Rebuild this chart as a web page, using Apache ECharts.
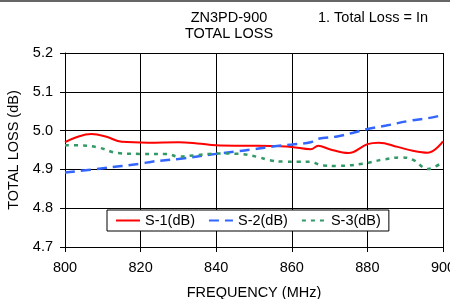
<!DOCTYPE html>
<html>
<head>
<meta charset="utf-8">
<script src="https://cdn.jsdelivr.net/npm/echarts@6/dist/echarts.min.js"></script>
<style>
  html, body { margin: 0; padding: 0; background: #fff; }
  #chart { width: 450px; height: 299px; }
</style>
</head>
<body>
<div id="chart"></div>
<script>
// frequency (MHz) points
var freqS1 = [800, 803, 807, 811, 815, 822, 830, 835, 840, 845, 851, 856, 860, 865, 867, 870, 875, 880, 883, 888, 892, 896, 900];
var valS1  = [4.970, 4.983, 4.991, 4.984, 4.971, 4.969, 4.970, 4.967, 4.962, 4.961, 4.961, 4.960, 4.958, 4.952, 4.961, 4.952, 4.942, 4.965, 4.969, 4.958, 4.948, 4.943, 4.972];

var freqS2 = [800, 810, 820, 823, 830, 840, 845, 850, 855, 860, 865, 867, 872, 876, 880, 885, 891, 896, 900];
var valS2  = [4.892, 4.903, 4.915, 4.920, 4.927, 4.940, 4.946, 4.952, 4.959, 4.964, 4.970, 4.979, 4.985, 4.994, 5.004, 5.013, 5.025, 5.032, 5.040];

var freqS3 = [800, 804, 809, 814, 820, 827, 830, 835, 840, 846, 851, 854, 858, 862, 865, 868, 872, 879, 884, 889, 892, 896, 900];
var valS3  = [4.962, 4.962, 4.956, 4.942, 4.940, 4.940, 4.933, 4.937, 4.941, 4.940, 4.932, 4.924, 4.920, 4.920, 4.920, 4.910, 4.909, 4.915, 4.925, 4.931, 4.925, 4.901, 4.920];

var seriesNames = ["S-1(dB)", "S-2(dB)", "S-3(dB)"];

function pairs(xs, ys) {
  return xs.map(function (x, i) { return [x, ys[i]]; });
}

var myChart = echarts.init(document.getElementById("chart"));
var font = "'Liberation Sans', Arial, sans-serif";
var fs = 14.5;

var option = {
  animation: false,
  textStyle: { fontFamily: font },
  grid: { left: 65, right: 7, top: 53, bottom: 52, show: false, outerBoundsMode: "none", containLabel: false },
  graphic: [
    { type: "line", shape: { x1: 0, y1: 1, x2: 450, y2: 1 }, style: { stroke: "#666", lineWidth: 2 } },
    {
      type: "text", x: 229, y: 10,
      style: { text: "ZN3PD-900\nTOTAL LOSS", font: fs + "px " + font, fill: "#000", align: "center", lineHeight: 16 }
    },
    {
      type: "text", x: 318, y: 10,
      style: { text: "1. Total Loss = In", font: fs + "px " + font, fill: "#000" }
    }
  ],
  legend: {
    left: 107, top: 210,
    padding: [3, 8, 3, 8],
    borderColor: "#000", borderWidth: 1,
    backgroundColor: "#fff",
    itemWidth: 24, itemHeight: 10, itemGap: 13,
    itemStyle: { opacity: 0 },
    textStyle: { fontSize: fs, color: "#000", fontFamily: font },
    data: seriesNames
  },
  xAxis: {
    type: "value", min: 800, max: 900, interval: 20,
    name: "FREQUENCY (MHz)", nameLocation: "middle", nameGap: 38,
    nameTextStyle: { fontSize: fs, color: "#000" },
    axisLine: { show: true, lineStyle: { color: "#000" } },
    axisTick: { show: true, length: 5, lineStyle: { color: "#000" } },
    axisLabel: { fontSize: fs, color: "#000", margin: 13 },
    splitLine: { show: true, lineStyle: { color: "#000", width: 1 } }
  },
  yAxis: {
    type: "value", min: 4.7, max: 5.2, interval: 0.1,
    name: "TOTAL LOSS (dB)", nameLocation: "middle", nameGap: 40,
    nameTextStyle: { fontSize: fs, color: "#000" },
    axisLine: { show: true, lineStyle: { color: "#000" } },
    axisTick: { show: true, inside: false, length: 5, lineStyle: { color: "#000" } },
    axisLabel: { fontSize: fs, color: "#000", margin: 12, formatter: function (v) { return v.toFixed(1); } },
    splitLine: { show: true, lineStyle: { color: "#000", width: 1 } }
  },
  series: [
    {
      name: seriesNames[0], type: "line", smooth: 0.4, symbol: "none",
      lineStyle: { color: "#ff0000", width: 2 }, itemStyle: { color: "#ff0000" },
      data: pairs(freqS1, valS1)
    },
    {
      name: seriesNames[1], type: "line", smooth: 0.4, symbol: "none",
      lineStyle: { color: "#3366ff", width: 2.5, type: [10, 6] }, itemStyle: { color: "#3366ff" },
      data: pairs(freqS2, valS2)
    },
    {
      name: seriesNames[2], type: "line", smooth: 0.4, symbol: "none",
      lineStyle: { color: "#339966", width: 2.5, type: [4, 5] }, itemStyle: { color: "#339966" },
      data: pairs(freqS3, valS3)
    }
  ]
};

myChart.setOption(option);
</script>
</body>
</html>
